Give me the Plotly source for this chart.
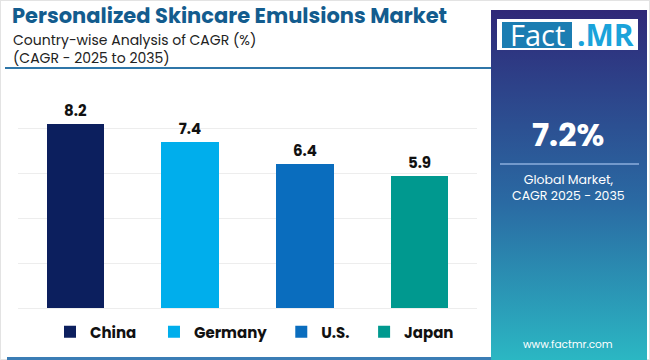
import plotly.graph_objects as go

countries = ["China", "Germany", "U.S.", "Japan"]
cagr = [8.2, 7.4, 6.4, 5.9]
colors = ["#0C1F5E", "#00AEEC", "#0A6DBE", "#00998F"]
legend_pad = ["\u00a0\u00a0\u00a0\u00a0", "\u00a0\u00a0\u00a0", "\u00a0\u00a0\u00a0", ""]

title = "Personalized Skincare Emulsions Market"
subtitle1 = "Country-wise Analysis of CAGR (%)"
subtitle2 = "(CAGR - 2025 to 2035)"
global_cagr = "7.2%"
global_label = "Global Market,<br>CAGR 2025 - 2035"
website = "www.factmr.com"

W, H = 650, 360
def px(x):
    return x / W
def py(y):
    return 1 - y / H

fig = go.Figure()
for c, v, col, pad in zip(countries, cagr, colors, legend_pad):
    fig.add_trace(go.Bar(
        x=[c], y=[v], name=c + pad, marker=dict(color=col, line=dict(width=0)),
        width=0.5, texttemplate="%{y:.1f}", textposition="outside",
        textfont=dict(family="Poppins, Lato, sans-serif", size=15, color="#111111", weight="bold"),
        cliponaxis=False, xaxis="x", yaxis="y",
    ))

# gradient side panel
fig.add_trace(go.Scatter(
    x=[0, 1, 1, 0, 0], y=[0, 0, 1, 1, 0], mode="lines", fill="toself",
    line=dict(width=0), showlegend=False, hoverinfo="skip",
    fillgradient=dict(type="vertical",
                      colorscale=[[0, "#2BB7C3"], [0.45, "#2A6AA3"], [1, "#2F2878"]]),
    xaxis="x2", yaxis="y2",
))

fig.update_layout(
    width=W, height=H, margin=dict(l=0, r=0, t=0, b=0),
    paper_bgcolor="white", plot_bgcolor="white",
    barmode="overlay", bargap=0,
    showlegend=True,
    legend=dict(orientation="h", x=px(50), xanchor="left", y=py(332), yanchor="middle",
                font=dict(family="Poppins, Lato, sans-serif", size=15, color="#111111", weight="bold"),
                itemwidth=30, bgcolor="rgba(0,0,0,0)", itemclick=False),
    xaxis=dict(domain=[px(18), px(477)], showgrid=False, showticklabels=False,
               showline=False, zeroline=False, fixedrange=True),
    yaxis=dict(domain=[1 - 308 / H, 1 - 90 / H], range=[0, 9.71], dtick=2,
               showgrid=True, gridcolor="#ededed", gridwidth=1,
               zeroline=True, zerolinecolor="#ededed", zerolinewidth=1,
               showticklabels=False, fixedrange=True),
    xaxis2=dict(domain=[px(491), px(647)], range=[0, 1], visible=False, fixedrange=True),
    yaxis2=dict(domain=[0, py(10)], range=[0, 1], visible=False, fixedrange=True),
)

shapes = [
    dict(type="rect", xref="paper", yref="paper", x0=0, x1=1, y0=0, y1=1,
         line=dict(color="#e3e3e3", width=2), layer="below"),
    dict(type="line", xref="paper", yref="paper", x0=px(5), x1=px(491), y0=py(68), y1=py(68),
         line=dict(color="#2F76A8", width=2)),
    dict(type="line", xref="paper", yref="paper", x0=px(7), x1=px(491), y0=py(358.5), y1=py(358.5),
         line=dict(color="#3B7DB5", width=3)),
    # logo
    dict(type="rect", xref="paper", yref="paper", x0=px(497), x1=px(638), y0=py(50), y1=py(19),
         fillcolor="white", line=dict(width=0)),
    dict(type="rect", xref="paper", yref="paper", x0=px(502), x1=px(572), y0=py(48), y1=py(22),
         fillcolor="#1B7DB2", line=dict(width=0)),
    # panel divider
    dict(type="line", xref="paper", yref="paper", x0=px(500), x1=px(639), y0=py(164), y1=py(164),
         line=dict(color="#8DAEDC", width=1.5)),
]
fig.update_layout(shapes=shapes)

ann = [
    dict(text=title, x=px(11), y=py(15.5), xanchor="left", yanchor="middle",
         font=dict(family="Poppins, Lato, sans-serif", size=21, color="#135C8E", weight="bold")),
    dict(text=subtitle1, x=px(12), y=py(40), xanchor="left", yanchor="middle",
         font=dict(family="Poppins, Lato, sans-serif", size=14, color="#222222")),
    dict(text=subtitle2, x=px(12), y=py(58.5), xanchor="left", yanchor="middle",
         font=dict(family="Poppins, Lato, sans-serif", size=14, color="#222222")),
    dict(text="Fact", x=px(537), y=py(35), xanchor="center", yanchor="middle",
         font=dict(family="Open Sans, sans-serif", size=29, color="white")),
    dict(text=".MR", x=px(605), y=py(35), xanchor="center", yanchor="middle",
         font=dict(family="Open Sans, sans-serif", size=30, color="#1AA3DA", weight="bold")),
    dict(text=global_cagr, x=px(568), y=py(134), xanchor="center", yanchor="middle",
         font=dict(family="Poppins, Lato, sans-serif", size=32, color="white", weight="bold")),
    dict(text=global_label, x=px(568), y=py(187), xanchor="center", yanchor="middle",
         font=dict(family="Poppins, Lato, sans-serif", size=12.5, color="white")),
    dict(text=website, x=px(568), y=py(344), xanchor="center", yanchor="middle",
         font=dict(family="Poppins, Lato, sans-serif", size=10.5, color="white")),
]
for a in ann:
    a.update(xref="paper", yref="paper", showarrow=False, borderpad=0)
fig.update_layout(annotations=ann)

fig.write_html("out.html", include_plotlyjs=True, config={"displayModeBar": False},
               post_script="document.body.style.margin='0';")
